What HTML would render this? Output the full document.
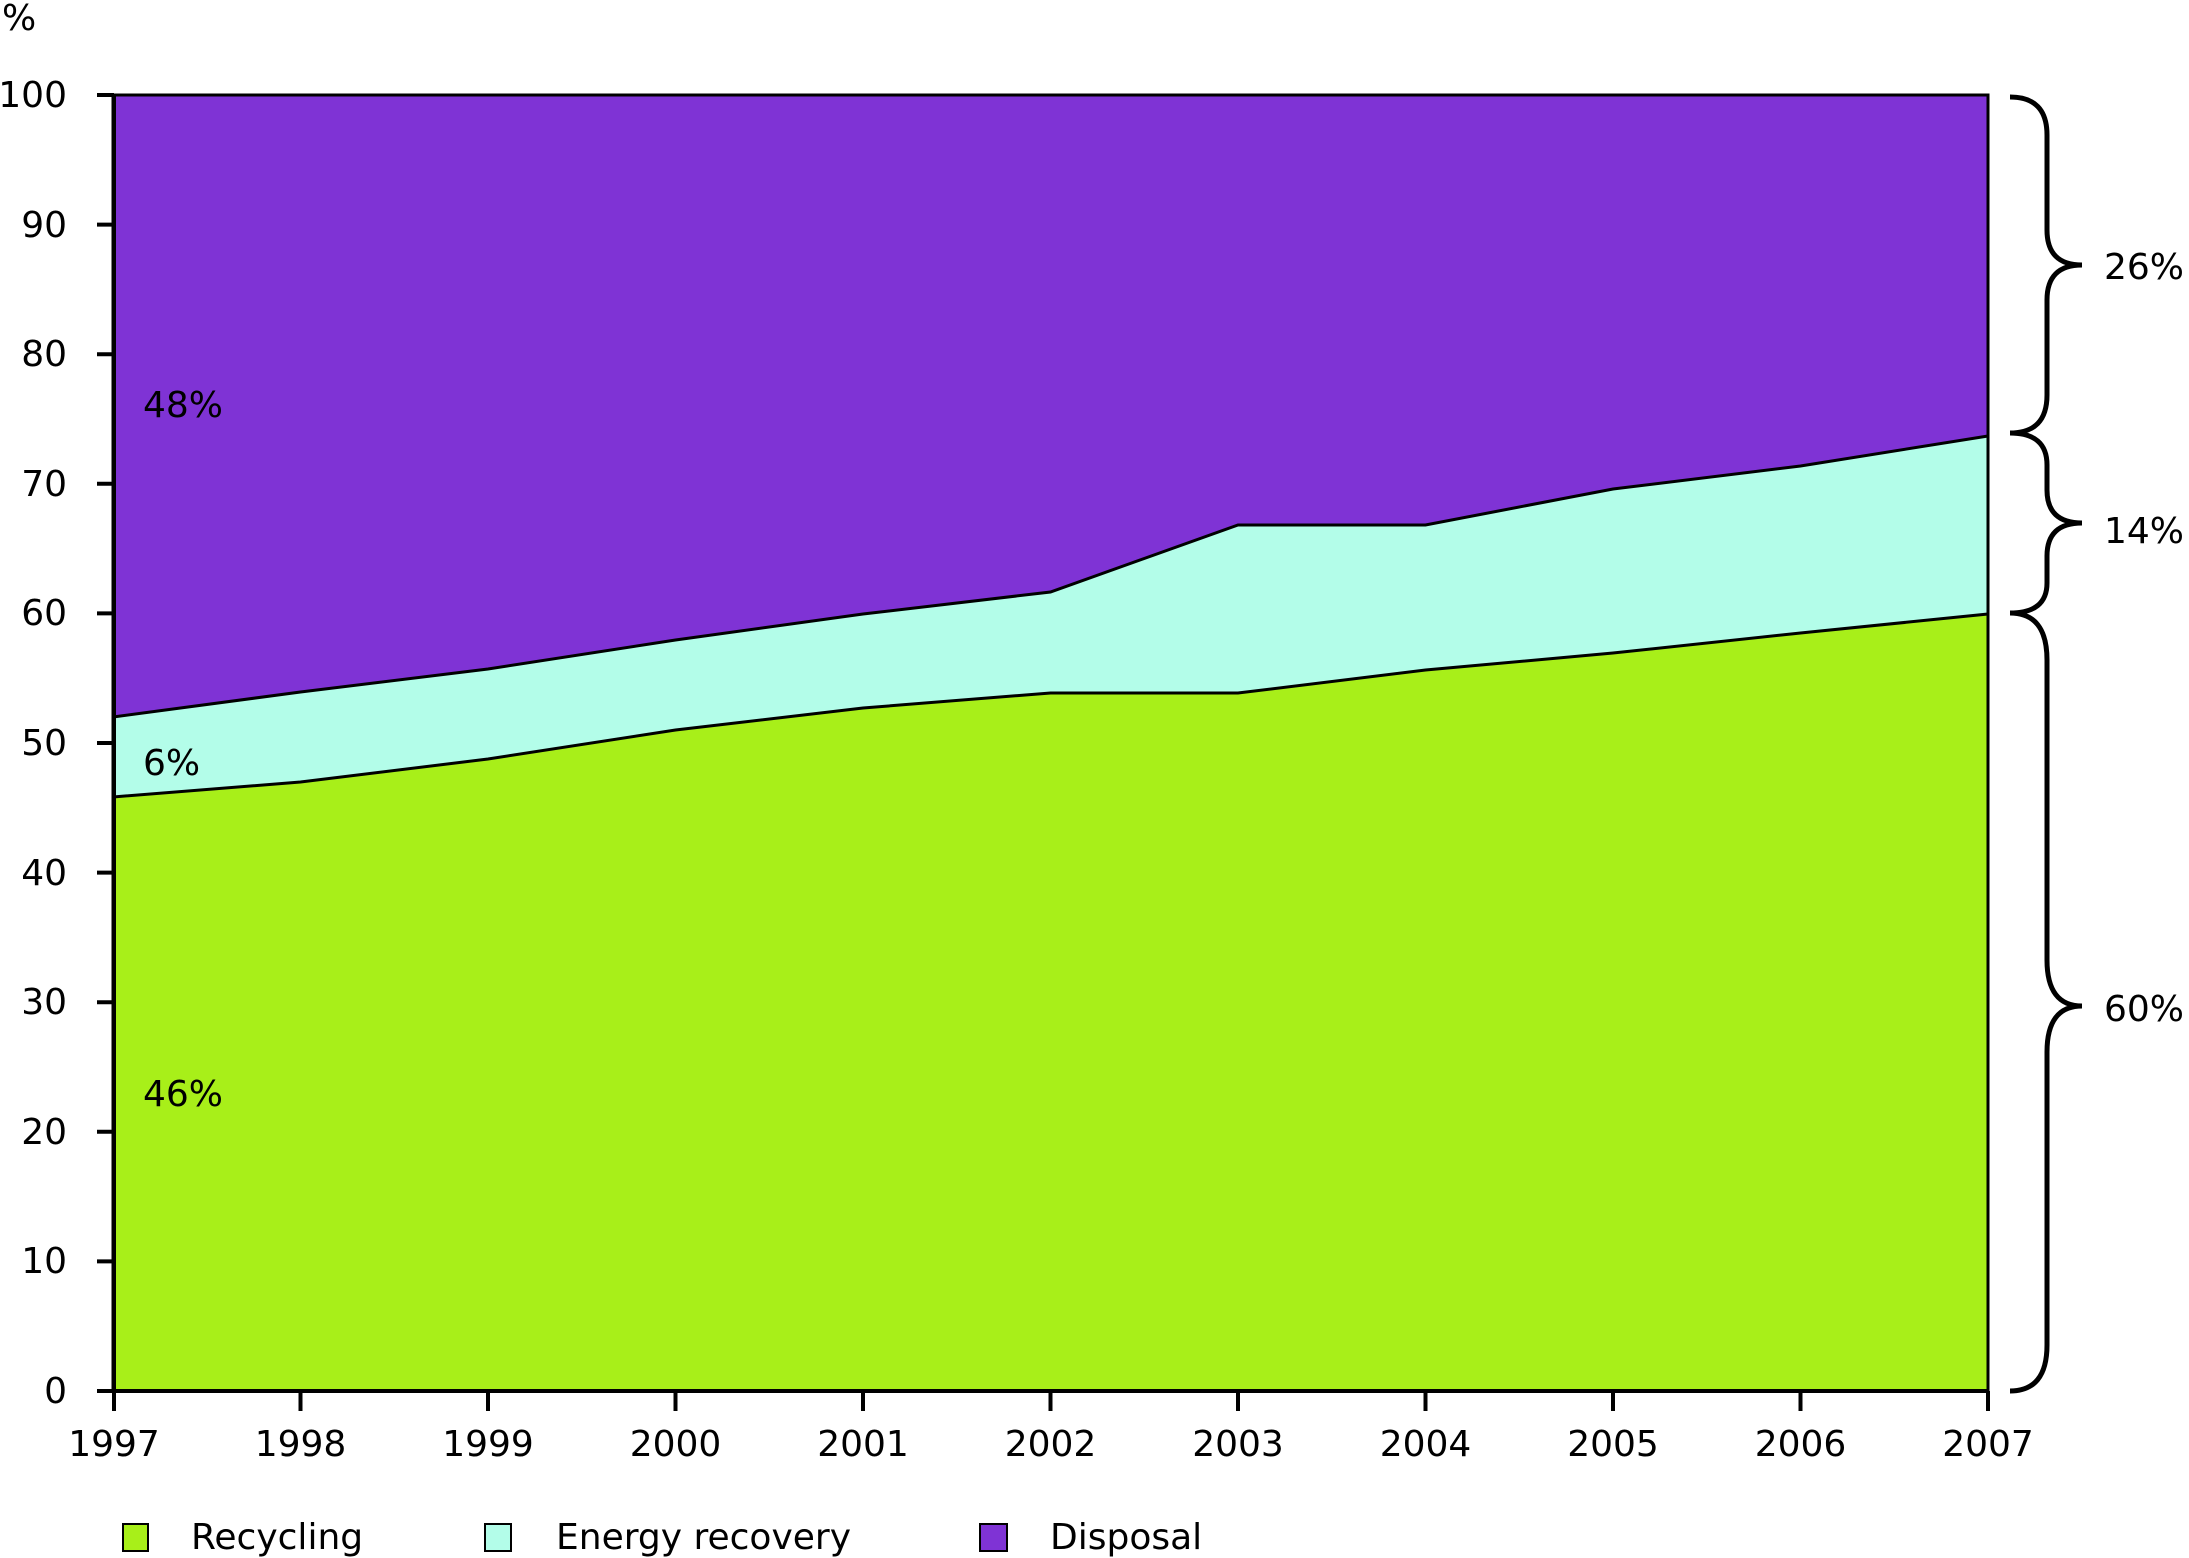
<!DOCTYPE html>
<html><head><meta charset="utf-8"><style>
html,body{margin:0;padding:0;background:#fff}
svg{display:block}
text{font-family:"DejaVu Sans","Liberation Sans",sans-serif;font-size:36px;fill:#000}
</style></head><body>
<svg width="2189" height="1558" viewBox="0 0 2189 1558" xmlns="http://www.w3.org/2000/svg">
<rect x="113" y="95" width="1875" height="1296" fill="#7f33d5"/>
<polygon fill="#b3fde9" points="113,717 300.5,692 488,669 675.5,640 863,614 1050.5,592 1238,525 1425.5,525 1613,489 1800.5,466 1988,436 1988,1391 113,1391"/>
<polygon fill="#a8ef19" points="113,797 300.5,782 488,759 675.5,730 863,708 1050.5,693 1238,693 1425.5,670 1613,653 1800.5,633 1988,614 1988,1391 113,1391"/>
<polyline fill="none" stroke="#000" stroke-width="3" points="113,717 300.5,692 488,669 675.5,640 863,614 1050.5,592 1238,525 1425.5,525 1613,489 1800.5,466 1988,436"/>
<polyline fill="none" stroke="#000" stroke-width="3" points="113,797 300.5,782 488,759 675.5,730 863,708 1050.5,693 1238,693 1425.5,670 1613,653 1800.5,633 1988,614"/>
<rect x="113" y="95" width="1875" height="1296" fill="none" stroke="#000" stroke-width="3"/>
<line x1="114" y1="95" x2="114" y2="1391" stroke="#000" stroke-width="4"/>
<line x1="97" y1="1391" x2="1988" y2="1391" stroke="#000" stroke-width="4"/>
<g stroke="#000" stroke-width="4">
<line x1="97" y1="95" x2="114" y2="95"/><line x1="97" y1="224.6" x2="114" y2="224.6"/><line x1="97" y1="354.2" x2="114" y2="354.2"/><line x1="97" y1="483.8" x2="114" y2="483.8"/><line x1="97" y1="613.4" x2="114" y2="613.4"/><line x1="97" y1="743" x2="114" y2="743"/><line x1="97" y1="872.6" x2="114" y2="872.6"/><line x1="97" y1="1002.2" x2="114" y2="1002.2"/><line x1="97" y1="1131.8" x2="114" y2="1131.8"/><line x1="97" y1="1261.4" x2="114" y2="1261.4"/>
<line x1="114" y1="1391" x2="114" y2="1411"/><line x1="300.5" y1="1391" x2="300.5" y2="1411"/><line x1="488" y1="1391" x2="488" y2="1411"/><line x1="675.5" y1="1391" x2="675.5" y2="1411"/><line x1="863" y1="1391" x2="863" y2="1411"/><line x1="1050.5" y1="1391" x2="1050.5" y2="1411"/><line x1="1238" y1="1391" x2="1238" y2="1411"/><line x1="1425.5" y1="1391" x2="1425.5" y2="1411"/><line x1="1613" y1="1391" x2="1613" y2="1411"/><line x1="1800.5" y1="1391" x2="1800.5" y2="1411"/><line x1="1988" y1="1391" x2="1988" y2="1411"/>
</g>
<g text-anchor="end">
<text x="67" y="107">100</text><text x="67" y="237">90</text><text x="67" y="366">80</text><text x="67" y="496">70</text><text x="67" y="625">60</text><text x="67" y="755">50</text><text x="67" y="885">40</text><text x="67" y="1014">30</text><text x="67" y="1144">20</text><text x="67" y="1273">10</text><text x="67" y="1403">0</text>
</g>
<text x="2" y="30">%</text>
<g text-anchor="middle">
<text x="114" y="1456">1997</text><text x="300.5" y="1456">1998</text><text x="488" y="1456">1999</text><text x="675.5" y="1456">2000</text><text x="863" y="1456">2001</text><text x="1050.5" y="1456">2002</text><text x="1238" y="1456">2003</text><text x="1425.5" y="1456">2004</text><text x="1613" y="1456">2005</text><text x="1800.5" y="1456">2006</text><text x="1988" y="1456">2007</text>
</g>
<text x="143" y="417">48%</text>
<text x="143" y="775">6%</text>
<text x="143" y="1106">46%</text>
<g fill="none" stroke="#000" stroke-width="5">
<path d="M2010,97 Q2047,97 2047,135 L2047,230 Q2047,265 2082,265 Q2047,265 2047,300 L2047,395 Q2047,433 2010,433"/>
<path d="M2010,433 Q2047,433 2047,465 L2047,490 Q2047,523 2082,523 Q2047,523 2047,556 L2047,583 Q2047,613 2010,613"/>
<path d="M2010,613 Q2047,613 2047,660 L2047,960 Q2047,1006 2082,1006 Q2047,1006 2047,1052 L2047,1345 Q2047,1391 2010,1391"/>
</g>
<text x="2104" y="279">26%</text>
<text x="2104" y="543">14%</text>
<text x="2104" y="1021">60%</text>
<rect x="123" y="1524" width="25" height="27" fill="#a8ef19" stroke="#000" stroke-width="2"/>
<text x="191" y="1549">Recycling</text>
<rect x="485" y="1524" width="26" height="27" fill="#b3fde9" stroke="#000" stroke-width="2"/>
<text x="556" y="1549">Energy recovery</text>
<rect x="980" y="1524" width="27" height="27" fill="#7f33d5" stroke="#000" stroke-width="2"/>
<text x="1050" y="1549">Disposal</text>
</svg>
</body></html>
